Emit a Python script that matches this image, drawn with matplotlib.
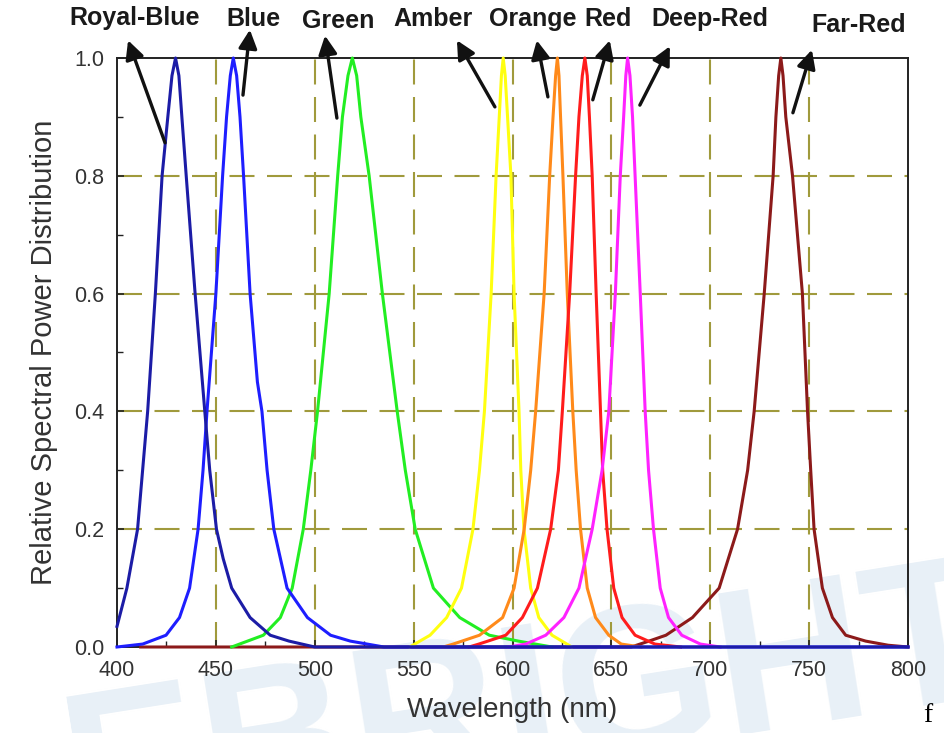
import matplotlib
matplotlib.use('Agg')
import matplotlib.pyplot as plt
from matplotlib.ticker import MultipleLocator

plt.rcParams['font.family'] = ['Liberation Sans', 'DejaVu Sans']

# spectra (wavelength nm, relative power)
royal_wl = [400, 405, 410.4, 415.5, 419.4, 422.8, 425.7, 427.8, 429.6, 431.3, 432.8, 435, 439.5,
            444.4, 446.9, 450.3, 453.7, 458, 467.3, 477.5, 487, 500, 800]
royal_v = [0.035, 0.1, 0.2, 0.4, 0.6, 0.8, 0.9, 0.97, 1.0, 0.97, 0.9, 0.8, 0.6,
           0.4, 0.3, 0.2, 0.15, 0.1, 0.05, 0.02, 0.01, 0.0, 0.0]

blue_wl = [400, 413, 424.8, 431.6, 436.7, 441, 443.5, 445.5, 450, 453.4, 455.4, 457.3, 458.8,
           460.5, 462.2, 464, 467.3, 471, 473.3, 475.9, 479.3, 486, 496.3, 508, 518, 535, 800]
blue_v = [0.0, 0.005, 0.02, 0.05, 0.1, 0.2, 0.3, 0.4, 0.6, 0.8, 0.9, 0.97, 1.0,
          0.97, 0.9, 0.8, 0.6, 0.45, 0.4, 0.3, 0.2, 0.1, 0.05, 0.02, 0.01, 0.0, 0.0]

green_wl = [458, 474, 482.6, 488.6, 494.2, 498, 501.4, 507.3, 511.6, 514, 516.8, 519, 521.2,
            523.3, 527.5, 534.2, 541.7, 545.8, 550.8, 560, 573.3, 588.3, 603, 620]
green_v = [0.0, 0.02, 0.05, 0.1, 0.2, 0.3, 0.4, 0.6, 0.8, 0.9, 0.97, 1.0, 0.97,
           0.9, 0.8, 0.6, 0.4, 0.3, 0.2, 0.1, 0.05, 0.02, 0.01, 0.0]

amber_wl = [548, 558.3, 566.7, 574.2, 580, 583.3, 585.8, 589.2, 591.7, 593.3, 594.4, 595.3, 596.3,
            597.5, 599.2, 600.8, 603.3, 604.2, 605.8, 609.2, 613.3, 620, 630]
amber_v = [0.0, 0.02, 0.05, 0.1, 0.2, 0.3, 0.4, 0.6, 0.8, 0.9, 0.97, 1.0, 0.97,
           0.9, 0.8, 0.6, 0.4, 0.3, 0.2, 0.1, 0.05, 0.02, 0.0]

orange_wl = [565, 570, 583.3, 595, 600.8, 605.9, 609.2, 611.7, 616, 618.8, 620.5, 621.8, 622.7,
             623.5, 624.3, 625.5, 627.7, 630.5, 632.2, 634.4, 637.8, 642, 648.7, 655, 665]
orange_v = [0.0, 0.005, 0.02, 0.05, 0.1, 0.2, 0.3, 0.4, 0.6, 0.8, 0.9, 0.97, 1.0,
            0.97, 0.9, 0.8, 0.6, 0.4, 0.3, 0.2, 0.1, 0.05, 0.02, 0.005, 0.0]

red_wl = [578, 583, 596.6, 605, 612.6, 619.3, 623.2, 625.2, 628.9, 631.9, 633.6, 635.3, 636.6,
          637.8, 638.9, 640.3, 642.3, 644.5, 645.6, 647.8, 651.2, 655.4, 662, 672, 685]
red_v = [0.0, 0.005, 0.02, 0.05, 0.1, 0.2, 0.3, 0.4, 0.6, 0.8, 0.9, 0.97, 1.0,
         0.97, 0.9, 0.8, 0.6, 0.4, 0.3, 0.2, 0.1, 0.05, 0.02, 0.005, 0.0]

deep_wl = [598, 606.7, 616.8, 626, 633.6, 640.3, 645.3, 648.7, 652, 654.5, 656.2, 657.3, 658.2,
           659.4, 660.7, 662, 664.6, 667.1, 668.8, 671.3, 674.7, 678.9, 685.6, 695, 705]
deep_v = [0.0, 0.005, 0.02, 0.05, 0.1, 0.2, 0.3, 0.4, 0.6, 0.8, 0.9, 0.97, 1.0,
          0.97, 0.9, 0.8, 0.6, 0.4, 0.3, 0.2, 0.1, 0.05, 0.02, 0.005, 0.0]

far_wl = [412, 660, 669, 677.6, 691, 704.5, 713.8, 718.9, 722.2, 727.3, 731.8, 733.2, 734.6, 735.7,
          736.8, 738.2, 741.6, 746.6, 749.2, 750.8, 752.5, 756.7, 761.8, 768.5, 778.6, 790, 800]
far_v = [0.0, 0.0, 0.01, 0.02, 0.05, 0.1, 0.2, 0.3, 0.4, 0.6, 0.8, 0.9, 0.97, 1.0,
         0.97, 0.9, 0.8, 0.6, 0.4, 0.3, 0.2, 0.1, 0.05, 0.02, 0.01, 0.003, 0.0]

names = ['Royal-Blue', 'Blue', 'Green', 'Amber', 'Orange', 'Red', 'Deep-Red', 'Far-Red']
colors = ['#1c1ca6', '#1e1eff', '#22ee22', '#ffff10', '#ff8a1a', '#ff1c1c', '#ff22ff', '#8c1a1a']
series = [(royal_wl, royal_v), (blue_wl, blue_v), (green_wl, green_v), (amber_wl, amber_v),
          (orange_wl, orange_v), (red_wl, red_v), (deep_wl, deep_v), (far_wl, far_v)]

# label positions (figure px) and arrow tail/head in data units
label_px = [(135, 18), (253, 19), (338, 21), (433, 19), (533, 19), (608, 19), (710, 19), (859, 25)]
arrow_tail = [(424.3, 0.856), (463.7, 0.937), (511.2, 0.898), (591.1, 0.917),
              (617.9, 0.934), (640.6, 0.929), (664.4, 0.920), (741.8, 0.907)]
arrow_head = [(405.6, 1.030), (467.2, 1.048), (505.2, 1.038), (571.9, 1.030),
              (612.3, 1.030), (649.2, 1.030), (679.6, 1.020), (751.4, 1.014)]

W, H = 945, 733
fig = plt.figure(figsize=(W / 100, H / 100), dpi=100)

# faint watermark behind the plot
fig.text(0.56, 0.03, 'EBRIGHT', fontsize=150, fontweight='bold', color='#e8f0f7',
         rotation=9, ha='center', va='center', zorder=-5)
fig.text(928 / W, 1 - 716 / H, 'f', fontsize=20, family='Liberation Serif', ha='center', va='center')

ax = fig.add_axes([117 / W, 1 - 647 / H, (908 - 117) / W, (647 - 58) / H])
ax.set_facecolor('none')

grid_color = '#a09a3c'
for gx in range(450, 800, 50):
    ax.axvline(gx, color=grid_color, lw=1.5, ls=(0, (12, 6)), zorder=1)
for gy in [0.2, 0.4, 0.6, 0.8]:
    ax.axhline(gy, color=grid_color, lw=1.5, ls=(0, (12, 6)), zorder=1)

for i in [7, 2, 3, 4, 5, 6, 1, 0]:
    wl, v = series[i]
    ax.plot(wl, v, color=colors[i], lw=2.2, clip_on=False, zorder=3)

for i in range(len(names)):
    ax.annotate('', xy=arrow_head[i], xytext=arrow_tail[i], annotation_clip=False,
                arrowprops=dict(arrowstyle='-|>', color='#111111', lw=2.4, mutation_scale=28,
                                shrinkA=0, shrinkB=0))
    fig.text(label_px[i][0] / W, 1 - label_px[i][1] / H, names[i], fontsize=18,
             fontweight='bold', color='#1a1a1a', ha='center', va='center')

ax.set_xlim(400, 800)
ax.set_ylim(0, 1)
ax.xaxis.set_major_locator(MultipleLocator(50))
ax.xaxis.set_minor_locator(MultipleLocator(25))
ax.yaxis.set_major_locator(MultipleLocator(0.2))
ax.yaxis.set_minor_locator(MultipleLocator(0.1))
ax.set_yticklabels(['%.1f' % t for t in ax.get_yticks()])
ax.tick_params(which='both', direction='in', top=False, right=False, colors='#222222',
               labelsize=15.5, labelcolor='#333333')
ax.tick_params(which='major', length=5, width=1.2, pad=9)
ax.tick_params(which='minor', length=4, width=1.0)
for s in ax.spines.values():
    s.set_color('#222222')
    s.set_linewidth(1.4)

ax.set_xlabel('Wavelength (nm)', fontsize=20, color='#333333', labelpad=12)
ax.set_ylabel('Relative Spectral Power Distribution', fontsize=21, color='#333333', labelpad=12)

fig.savefig('out.png', dpi=100)
